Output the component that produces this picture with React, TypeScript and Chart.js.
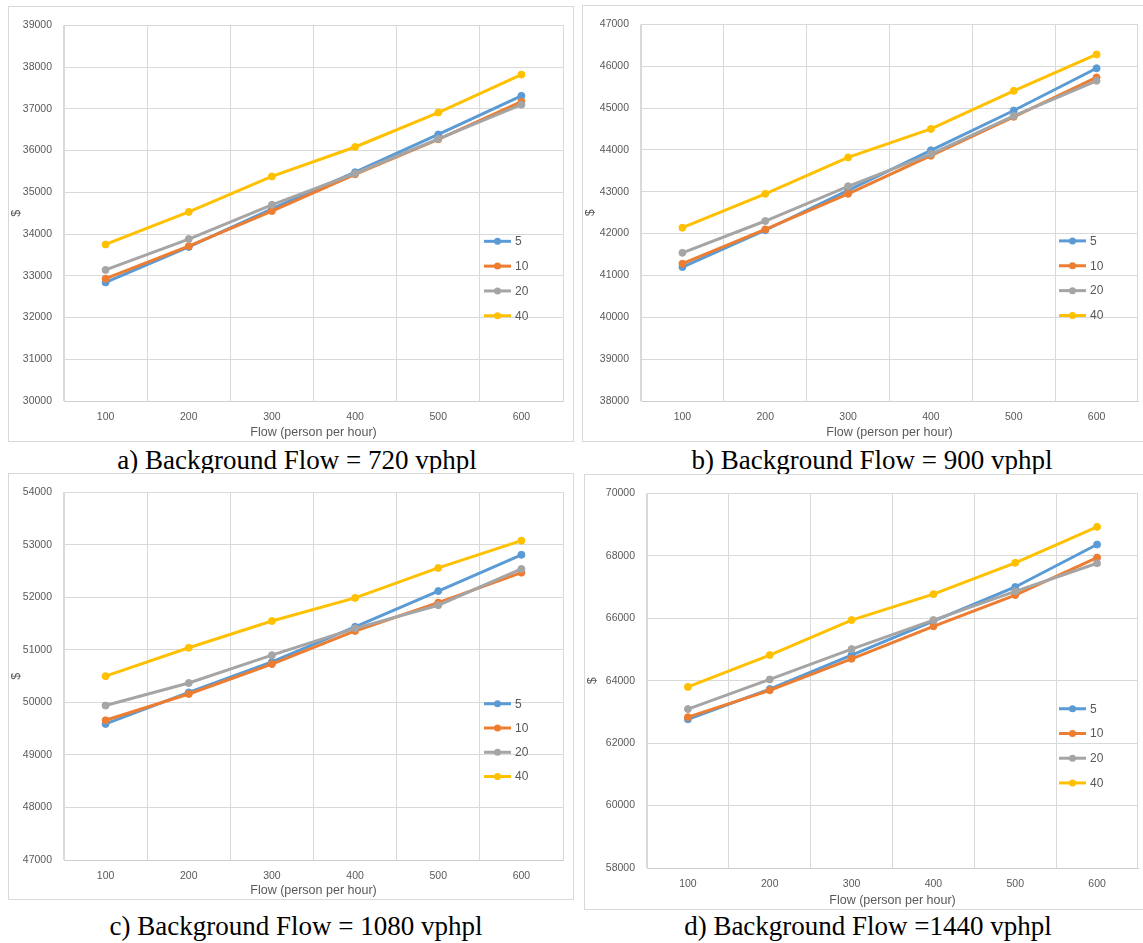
import React, { useEffect, useRef } from "react";
import { Chart, registerables } from "chart.js";

Chart.register(...registerables);

// ---------- data ----------
const flowLabels = ["100", "200", "300", "400", "500", "600"];
const seriesNames = ["5", "10", "20", "40"];
const seriesColors = ["#5B9BD5", "#ED7D31", "#A5A5A5", "#FFC000"];

// a) Background Flow = 720 vphpl
const a5 = [32840, 33690, 34600, 35480, 36385, 37310];
const a10 = [32930, 33710, 34550, 35430, 36270, 37170];
const a20 = [33140, 33880, 34700, 35450, 36280, 37100];
const a40 = [33750, 34530, 35380, 36085, 36910, 37820];

// b) Background Flow = 900 vphpl
const b5 = [41200, 42080, 43030, 43990, 44940, 45950];
const b10 = [41280, 42100, 42950, 43860, 44790, 45730];
const b20 = [41540, 42300, 43130, 43900, 44810, 45650];
const b40 = [42140, 42950, 43820, 44500, 45410, 46280];

// c) Background Flow = 1080 vphpl
const c5 = [49590, 50190, 50770, 51440, 52120, 52810];
const c10 = [49660, 50160, 50730, 51360, 51900, 52470];
const c20 = [49940, 50370, 50900, 51410, 51850, 52540];
const c40 = [50500, 51040, 51550, 51990, 52560, 53080];

// d) Background Flow = 1440 vphpl
const d5 = [62760, 63730, 64820, 65910, 67000, 68360];
const d10 = [62830, 63690, 64700, 65740, 66740, 67940];
const d20 = [63090, 64040, 65010, 65940, 66860, 67760];
const d40 = [63800, 64820, 65940, 66770, 67775, 68925];

// y-axis ranges (min, max, step)
const yRangeA = [30000, 39000, 1000];
const yRangeB = [38000, 47000, 1000];
const yRangeC = [47000, 54000, 1000];
const yRangeD = [58000, 70000, 2000];

const xTitle = "Flow (person per hour)";
const yTitle = "$";

// ---------- layout ----------
type Panel = {
  caption: string;
  series: number[][];
  yRange: number[];
  box: { left: number; top: number; width: number; height: number; noRight?: boolean };
  plot: { left: number; right: number; top: number; bottom: number };
  capCenter: number;
  capTop: number;
};

const panels: Panel[] = [
  {
    caption: "a) Background Flow = 720 vphpl",
    series: [a5, a10, a20, a40],
    yRange: yRangeA,
    box: { left: 8, top: 6, width: 566, height: 436 },
    plot: { left: 55, right: 10, top: 14, bottom: 40 },
    capCenter: 297,
    capTop: 445,
  },
  {
    caption: "b) Background Flow = 900 vphpl",
    series: [b5, b10, b20, b40],
    yRange: yRangeB,
    box: { left: 582, top: 5, width: 561, height: 437, noRight: true },
    plot: { left: 58, right: 5, top: 15, bottom: 40 },
    capCenter: 872,
    capTop: 445,
  },
  {
    caption: "c) Background Flow = 1080 vphpl",
    series: [c5, c10, c20, c40],
    yRange: yRangeC,
    box: { left: 8, top: 473, width: 566, height: 427 },
    plot: { left: 55, right: 10, top: 14, bottom: 39 },
    capCenter: 296,
    capTop: 911,
  },
  {
    caption: "d) Background Flow =1440 vphpl",
    series: [d5, d10, d20, d40],
    yRange: yRangeD,
    box: { left: 584, top: 474, width: 559, height: 436, noRight: true },
    plot: { left: 62, right: 5, top: 14, bottom: 41 },
    capCenter: 868,
    capTop: 911,
  },
];

const FONT = '"Liberation Sans", Arial, sans-serif';
const TEXT = "#595959";
const GRID = "#d9d9d9";

const insideLegend = {
  id: "insideLegend",
  afterDatasetsDraw(chart: any) {
    const { ctx, chartArea } = chart;
    const h = chartArea.bottom - chartArea.top;
    chart.data.datasets.forEach((ds: any, i: number) => {
      const y = chartArea.top + h * 0.575 + i * h * 0.066;
      const x0 = chartArea.right - 79;
      const x1 = chartArea.right - 52;
      ctx.save();
      ctx.strokeStyle = ds.borderColor;
      ctx.lineWidth = 3;
      ctx.beginPath();
      ctx.moveTo(x0, y);
      ctx.lineTo(x1, y);
      ctx.stroke();
      ctx.fillStyle = ds.borderColor;
      ctx.beginPath();
      ctx.arc((x0 + x1) / 2, y, 3.5, 0, Math.PI * 2);
      ctx.fill();
      ctx.fillStyle = TEXT;
      ctx.font = `12px ${FONT}`;
      ctx.textBaseline = "middle";
      ctx.textAlign = "left";
      ctx.fillText(ds.label, chartArea.right - 48, y + 0.5);
      ctx.restore();
    });
  },
};

function PanelChart({ p }: { p: Panel }) {
  const ref = useRef<HTMLCanvasElement | null>(null);
  const cw = p.box.width - (p.box.noRight ? 1 : 2);
  const ch = p.box.height - 2;

  useEffect(() => {
    if (!ref.current) return;
    const n = seriesNames.length;
    const chart = new Chart(ref.current, {
      type: "line",
      data: {
        labels: flowLabels,
        datasets: p.series.map((vals, i) => ({
          label: seriesNames[i],
          data: vals,
          borderColor: seriesColors[i],
          backgroundColor: seriesColors[i],
          pointBackgroundColor: seriesColors[i],
          pointBorderColor: seriesColors[i],
          borderWidth: 3,
          pointRadius: 3.5,
          pointBorderWidth: 1,
          tension: 0,
          fill: false,
          order: n - i,
        })),
      },
      options: {
        animation: false,
        responsive: false,
        maintainAspectRatio: false,
        events: [],
        layout: {
          padding: { left: 0, top: p.plot.top, right: p.plot.right, bottom: 0 },
        },
        plugins: {
          legend: { display: false },
          tooltip: { enabled: false },
        },
        scales: {
          x: {
            type: "category",
            offset: true,
            grid: { color: GRID, lineWidth: 1, drawTicks: false, offset: true },
            border: { color: "#cfcfcf", width: 1 },
            ticks: { color: TEXT, font: { family: FONT, size: 10.5 }, padding: 10, maxRotation: 0 },
            title: {
              display: true,
              text: xTitle,
              color: TEXT,
              font: { family: FONT, size: 12.5 },
              padding: { top: 0, bottom: 1 },
            },
            afterFit: (s: any) => {
              s.height = p.plot.bottom;
            },
          },
          y: {
            min: p.yRange[0],
            max: p.yRange[1],
            grid: { color: GRID, lineWidth: 1, drawTicks: false },
            border: { color: GRID, width: 1 },
            ticks: {
              stepSize: p.yRange[2],
              color: TEXT,
              font: { family: FONT, size: 10.5 },
              padding: 12,
              callback: (v: any) => String(v),
            },
            title: {
              display: true,
              text: yTitle,
              color: TEXT,
              font: { family: FONT, size: 12.5 },
              padding: { top: 0, bottom: 0 },
            },
            afterFit: (s: any) => {
              s.width = p.plot.left;
            },
          },
        },
      },
      plugins: [insideLegend],
    } as any);
    return () => chart.destroy();
  }, [p]);

  return (
    <>
      <div
        style={{
          position: "absolute",
          left: p.box.left,
          top: p.box.top,
          width: p.box.width,
          height: p.box.height,
          boxSizing: "border-box",
          border: `1px solid ${GRID}`,
          borderRight: p.box.noRight ? "none" : `1px solid ${GRID}`,
          background: "#fff",
        }}
      >
        <canvas ref={ref} width={cw} height={ch} style={{ display: "block", width: cw, height: ch }} />
      </div>
      <div
        style={{
          position: "absolute",
          left: p.capCenter - 300,
          top: p.capTop,
          width: 600,
          textAlign: "center",
          fontFamily: '"Liberation Serif", "Times New Roman", serif',
          fontSize: 27,
          lineHeight: "30px",
          color: "#000",
          whiteSpace: "nowrap",
        }}
      >
        {p.caption}
      </div>
    </>
  );
}

export default function App() {
  return (
    <div
      style={{
        position: "absolute",
        left: 0,
        top: 0,
        width: 1143,
        height: 943,
        overflow: "hidden",
        background: "#fff",
      }}
    >
      {panels.map((p, i) => (
        <PanelChart key={i} p={p} />
      ))}
    </div>
  );
}
